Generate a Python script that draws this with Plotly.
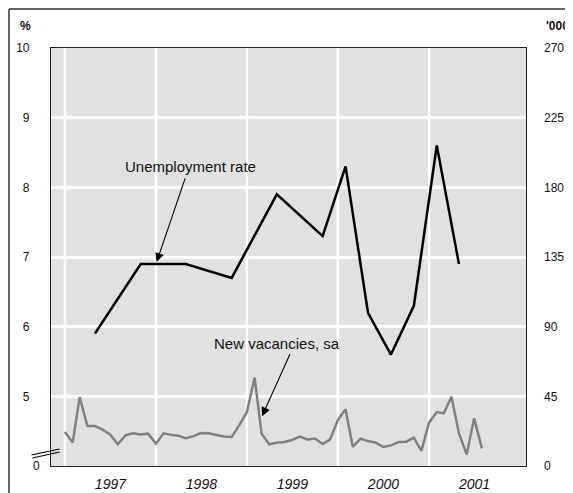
import plotly.graph_objects as go
import pandas as pd

# ---- data ----
unemp_dates = ["1997-05-01", "1997-11-01", "1998-05-01", "1998-11-01", "1999-05-01",
               "1999-11-01", "2000-02-01", "2000-05-01", "2000-08-01", "2000-11-01",
               "2001-02-01", "2001-05-01"]
unemp_rate = [5.9, 6.9, 6.9, 6.7, 7.9, 7.3, 8.3, 6.2, 5.6, 6.3, 8.6, 6.9]

vac_dates = pd.date_range("1997-01-01", periods=56, freq="MS")
vacancies = [21.9, 15.1, 44.5, 25.8, 25.8, 23.5, 20.4, 14.0, 19.8, 21.1, 20.4, 20.9,
             14.4, 21.1, 20.2, 19.6, 17.9, 19.3, 21.3, 21.1, 20.0, 19.0, 18.8, 26.2,
             34.8, 57.0, 20.9, 14.0, 15.1, 15.5, 16.8, 19.0, 17.2, 17.7, 14.2, 17.2,
             29.7, 36.6, 12.3, 17.7, 16.1, 15.1, 12.3, 13.3, 15.5, 15.7, 18.3, 9.7,
             28.0, 34.8, 34.0, 44.7, 21.1, 7.5, 30.8, 11.4]

year_ticks = ["1997-01-01", "1998-01-01", "1999-01-01", "2000-01-01", "2001-01-01"]
left_ticks = [4, 5, 6, 7, 8, 9, 10]
left_labels = ["", "5", "6", "7", "8", "9", "10"]
right_ticks = [0, 45, 90, 135, 180, 225, 270]

FONT = "Liberation Sans, Arial, sans-serif"
# the page body has an 8px margin, so the figure is drawn 8px smaller/offset
OFF = 8
W, H = 573 - OFF, 493 - OFF
L, R, T, B = 51 - OFF, 47, 48 - OFF, 27
PW, PH = W - L - R, H - T - B


def px(x):  # reference pixel -> paper
    return (x - OFF - L) / PW


def py(y):
    return (H - B - (y - OFF)) / PH


def label(text, x, y, size, xanchor="center"):
    return dict(text=text, x=px(x), y=py(y), xref="paper", yref="paper",
                xanchor=xanchor, yanchor="middle", showarrow=False,
                font=dict(size=size, color="#111", family=FONT))


fig = go.Figure()
fig.add_trace(go.Scatter(x=vac_dates, y=vacancies, mode="lines", yaxis="y2",
                         line=dict(color="#808080", width=2.5), showlegend=False))
fig.add_trace(go.Scatter(x=unemp_dates, y=unemp_rate, mode="lines", yaxis="y",
                         line=dict(color="#000000", width=2.5), showlegend=False))

annotations = [
    label("Unemployment rate", 190.5, 166.7, 15),
    label("New vacancies, sa", 277, 344, 15),
    dict(text="", x="1998-01-04", y=6.93, xref="x", yref="y", showarrow=True,
         ax=29, ay=-85, arrowhead=2, arrowsize=1.6, arrowwidth=1.1, arrowcolor="#000"),
    dict(text="", x="1999-03-03", y=32.2, xref="x", yref="y2", showarrow=True,
         ax=28.5, ay=-63.5, arrowhead=2, arrowsize=1.6, arrowwidth=1.1, arrowcolor="#000"),
    label("<b>%</b>", 25.5, 25.5, 12),
    label("<b>'000</b>", 544, 26, 12, xanchor="left"),
    label("0", 36.5, 465.5, 12),
]

shapes = [
    # outer frame (top and left edges)
    dict(type="line", xref="paper", yref="paper", x0=px(9), y0=py(9), x1=px(580), y1=py(9),
         line=dict(color="#333", width=1.5)),
    dict(type="line", xref="paper", yref="paper", x0=px(9), y0=py(9), x1=px(9), y1=py(500),
         line=dict(color="#333", width=1.5)),
    # axis break marks
    dict(type="line", xref="paper", yref="paper", x0=px(31.5), y0=py(455), x1=px(59.5), y1=py(449),
         line=dict(color="#000", width=1.2)),
    dict(type="line", xref="paper", yref="paper", x0=px(32.5), y0=py(458), x1=px(59.5), y1=py(452),
         line=dict(color="#000", width=1.2)),
]
# vertical year gridlines (only 1997-2001, as in the original)
for d in year_ticks:
    shapes.append(dict(type="line", xref="x", yref="paper", x0=d, x1=d, y0=0, y1=1,
                       layer="below", line=dict(color="white", width=2.5)))

fig.update_layout(
    width=W, height=H,
    margin=dict(l=L, r=R, t=T, b=B, pad=0, autoexpand=False),
    paper_bgcolor="white", plot_bgcolor="#e1e1e1",
    font=dict(family=FONT, size=12, color="#111"),
    xaxis=dict(type="date", range=["1996-11-06", "2002-01-25"], dtick="M12",
               tick0="1997-01-01", tickformat="%Y", ticklabelmode="period",
               showgrid=False, automargin=False,
               ticks="", showline=True, linecolor="#222", linewidth=1.2,
               mirror=True, zeroline=False, ticklabelstandoff=5,
               tickfont=dict(size=14, family=FONT, style="italic", color="#111")),
    yaxis=dict(range=[4, 10], tickvals=left_ticks, ticktext=left_labels, showgrid=True,
               automargin=False,
               gridcolor="white", gridwidth=2.5, ticks="", showline=True, linecolor="#222",
               linewidth=1.2, mirror=True, zeroline=False, ticklabelstandoff=18,
               tickfont=dict(size=12, family=FONT)),
    yaxis2=dict(range=[0, 270], tickvals=right_ticks, overlaying="y", side="right",
                automargin=False,
                showgrid=False, ticks="", zeroline=False, ticklabelstandoff=17,
                tickfont=dict(size=12, family=FONT)),
    annotations=annotations, shapes=shapes,
)

fig.write_html("out.html")
